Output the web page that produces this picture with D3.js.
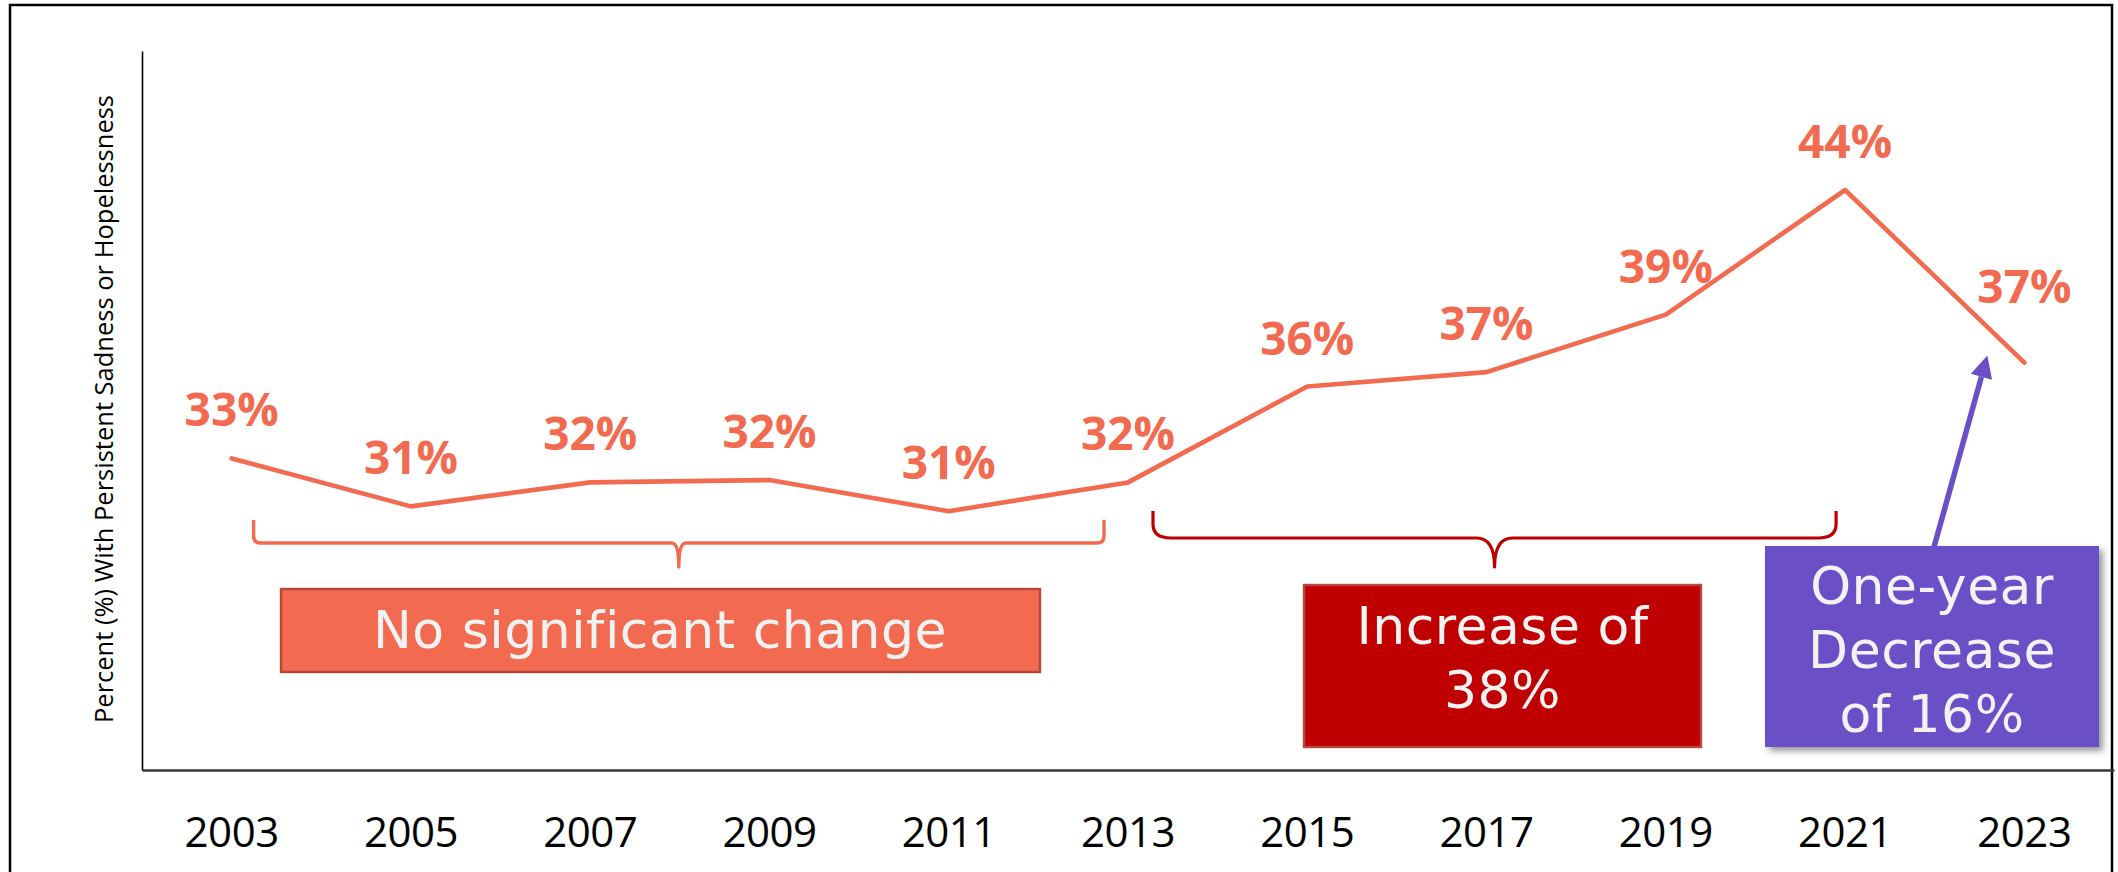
<!DOCTYPE html>
<html>
<head>
<meta charset="utf-8">
<script src="https://cdn.jsdelivr.net/npm/d3@7"></script>
<style>
  html, body { margin: 0; padding: 0; background: #ffffff; }
  svg { display: block; }
</style>
</head>
<body>
<svg id="chart" width="2118" height="872"></svg>
<script>
// ---------- data ----------
const years = ["2003", "2005", "2007", "2009", "2011", "2013", "2015", "2017", "2019", "2021", "2023"];
const values = [33, 31, 32, 32.1, 30.8, 32, 36, 36.6, 39, 44.2, 37];
const valueLabels = ["33%", "31%", "32%", "32%", "31%", "32%", "36%", "37%", "39%", "44%", "37%"];
const yDomain = [20, 50];
const yTitle = "Percent (%) With Persistent Sadness or Hopelessness";
const noChangeText = ["No significant change"];
const increaseText = ["Increase of", "38%"];
const decreaseText = ["One-year", "Decrease", "of 16%"];

// ---------- styles ----------
const CORAL = "#F26A4F";
const RED = "#C00000";
const PURPLE = "#6A4FC6";
const BOXTEXT = "#F2F2F2";

const svg = d3.select("#chart");

// frame
svg.append("rect")
  .attr("x", 10).attr("y", 5)
  .attr("width", 2102).attr("height", 900)
  .attr("fill", "#ffffff")
  .attr("stroke", "#000").attr("stroke-width", 2.5);

// scales
const x = d3.scaleBand().domain(years).range([142, 2114]).padding(0);
const y = d3.scaleLinear().domain(yDomain).range([770, 51]);
const cx = d => x(d) + x.bandwidth() / 2;

// defs: shadow
const defs = svg.append("defs");
const f = defs.append("filter").attr("id", "shadow")
  .attr("x", "-10%").attr("y", "-10%").attr("width", "130%").attr("height", "130%");
f.append("feDropShadow").attr("dx", 4).attr("dy", 4).attr("stdDeviation", 3)
  .attr("flood-color", "#000").attr("flood-opacity", 0.4);

// y axis
const yAxis = svg.append("g")
  .attr("transform", "translate(142,0)")
  .call(d3.axisLeft(y).ticks(0).tickSize(0).tickSizeOuter(0));
yAxis.select(".domain").attr("stroke", "#000").attr("stroke-width", 1.6);
yAxis.selectAll(".tick").remove();

// x axis
const xAxis = svg.append("g")
  .attr("transform", "translate(0,770)")
  .call(d3.axisBottom(x).tickSize(0).tickSizeOuter(0));
xAxis.select(".domain").attr("stroke", "#3a3a3a").attr("stroke-width", 2.4);
xAxis.selectAll(".tick text")
  .attr("y", 76.5).attr("dy", null)
  .attr("font-family", "'Open Sans', sans-serif")
  .attr("font-size", 42)
  .attr("letter-spacing", -0.5)
  .attr("fill", "#000");

// y title
svg.append("text")
  .attr("transform", "translate(113,409) rotate(-90)")
  .attr("text-anchor", "middle")
  .attr("font-family", "'Open Sans', sans-serif")
  .attr("font-size", 25.5)
  .attr("fill", "#000")
  .text(yTitle);

// line
const line = d3.line()
  .x((d, i) => cx(years[i]))
  .y(d => y(d));
svg.append("path")
  .datum(values)
  .attr("d", line)
  .attr("fill", "none")
  .attr("stroke", CORAL)
  .attr("stroke-width", 4.6)
  .attr("stroke-linejoin", "round")
  .attr("stroke-linecap", "round");

// value labels
svg.append("g").selectAll("text")
  .data(values)
  .join("text")
  .attr("x", (d, i) => cx(years[i]))
  .attr("y", (d, i) => y(d) - (i === years.length - 1 ? 60 : 32))
  .attr("text-anchor", "middle")
  .attr("font-family", "'Open Sans', sans-serif")
  .attr("font-weight", 700)
  .attr("font-size", 46)
  .attr("fill", CORAL)
  .text((d, i) => valueLabels[i]);

// brace helper (opening downward)
function brace(x0, x1, yT, yH, yB, rx, ry) {
  const xm = (x0 + x1) / 2;
  return `M${x0},${yT} L${x0},${yH - ry} Q${x0},${yH} ${x0 + rx},${yH} ` +
         `L${xm - rx},${yH} Q${xm},${yH} ${xm},${yB} ` +
         `Q${xm},${yH} ${xm + rx},${yH} L${x1 - rx},${yH} Q${x1},${yH} ${x1},${yH - ry} L${x1},${yT}`;
}

// coral brace (2003-2013)
svg.append("path")
  .attr("d", brace(cx("2003") + 22, cx("2013") - 24, 520, 543, 567, 7, 7))
  .attr("fill", "none").attr("stroke", CORAL).attr("stroke-width", 3.4)
  .attr("stroke-linejoin", "round");

// red brace (2013-2021)
svg.append("path")
  .attr("d", brace(cx("2013") + 25, cx("2021") - 9, 511, 538, 567, 18, 14))
  .attr("fill", "none").attr("stroke", RED).attr("stroke-width", 3.2)
  .attr("stroke-linejoin", "round");

// box helper
function box(x0, y0, w, h, fill, stroke, lines, baselines, cxText, shadow) {
  const g = svg.append("g");
  const r = g.append("rect")
    .attr("x", x0).attr("y", y0).attr("width", w).attr("height", h)
    .attr("fill", fill);
  if (stroke) r.attr("stroke", stroke).attr("stroke-width", 2.4);
  if (shadow) r.attr("filter", "url(#shadow)");
  g.selectAll("text")
    .data(lines)
    .join("text")
    .attr("x", cxText)
    .attr("y", (d, i) => baselines[i])
    .attr("text-anchor", "middle")
    .attr("font-family", "'DejaVu Sans', sans-serif")
    .attr("font-size", 52)
    .attr("letter-spacing", 0.5)
    .attr("fill", BOXTEXT)
    .text(d => d);
}

box(281, 589, 759, 83, CORAL, "#B5473A", noChangeText, [648], 660, false);
box(1304, 585, 397, 162, RED, "#B8483F", increaseText, [644, 708], 1502.5, false);

// arrow (purple), from box top to near the 2023 point
const ax0 = 1934, ay0 = 547;
const ax1 = cx("2023") - 37, ay1 = y(37) - 7;
const ang = Math.atan2(ay1 - ay0, ax1 - ax0);
const headLen = 22, headHalf = 11;
const bx = ax1 - headLen * Math.cos(ang), by = ay1 - headLen * Math.sin(ang);
svg.append("line")
  .attr("x1", ax0).attr("y1", ay0).attr("x2", bx).attr("y2", by)
  .attr("stroke", PURPLE).attr("stroke-width", 5.5);
svg.append("path")
  .attr("d", `M${ax1},${ay1} L${bx + headHalf * Math.sin(ang)},${by - headHalf * Math.cos(ang)} L${bx - headHalf * Math.sin(ang)},${by + headHalf * Math.cos(ang)} Z`)
  .attr("fill", PURPLE);

box(1765, 546, 334, 201, PURPLE, null, decreaseText, [604, 668, 732], 1932, true);
</script>
</body>
</html>
